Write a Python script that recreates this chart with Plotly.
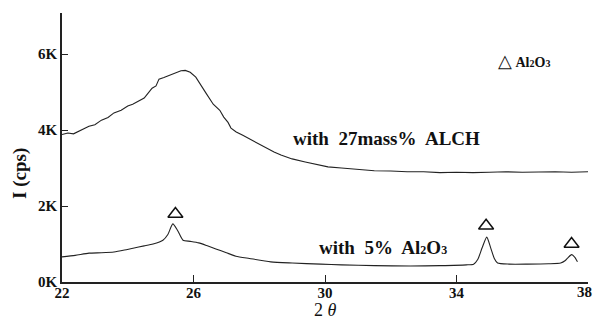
import plotly.graph_objects as go

# 2theta (deg) and intensity (K cps)
alch_x = [22.0, 22.18, 22.35, 22.5, 22.82, 23.0, 23.2, 23.4, 23.58, 23.8, 24.0, 24.15, 24.3,
          24.5, 24.62, 24.74, 24.86, 24.95, 25.1, 25.3, 25.5, 25.62, 25.75, 25.9, 26.07,
          26.2, 26.38, 26.6, 26.8, 26.92, 27.05, 27.14, 27.3, 27.5, 27.75, 28.0, 28.2,
          28.45, 28.66, 29.0, 29.4, 29.78, 30.09, 30.5, 31.0, 31.5, 32.0, 32.5, 33.0,
          33.5, 34.0, 34.5, 35.0, 35.5, 36.0, 36.5, 37.0, 37.5, 38.0]
alch_y = [3.88, 3.92, 3.9, 3.97, 4.1, 4.14, 4.26, 4.33, 4.45, 4.52, 4.63, 4.68, 4.74,
          4.84, 4.97, 5.1, 5.16, 5.34, 5.38, 5.45, 5.52, 5.56, 5.57, 5.52, 5.39,
          5.2, 4.97, 4.68, 4.52, 4.34, 4.2, 4.05, 3.95, 3.86, 3.74, 3.62, 3.52,
          3.42, 3.34, 3.24, 3.16, 3.08, 3.03, 3.0, 2.96, 2.93, 2.92, 2.9, 2.9,
          2.88, 2.89, 2.88, 2.89, 2.9, 2.89, 2.9, 2.9, 2.89, 2.9]

al2o3_x = [22.0, 22.4, 22.82, 23.2, 23.58, 23.9, 24.16, 24.5, 24.77, 25.07, 25.22, 25.37,
           25.52, 25.68, 25.9, 26.16, 26.4, 26.68, 27.0, 27.29, 27.7, 28.35, 29.0, 29.87,
           30.5, 31.5, 32.6, 33.5, 34.3, 34.52, 34.65, 34.78, 34.92, 35.04, 35.15, 35.25,
           35.6, 36.16, 36.8, 37.17, 37.3, 37.38, 37.5, 37.6, 37.68]
al2o3_y = [0.66, 0.7, 0.76, 0.77, 0.79, 0.84, 0.89, 0.95, 1.0, 1.1, 1.25, 1.53,
           1.35, 1.1, 1.07, 1.03, 0.96, 0.87, 0.77, 0.68, 0.62, 0.53, 0.5, 0.47,
           0.45, 0.43, 0.42, 0.43, 0.45, 0.47, 0.6, 0.9, 1.18, 0.9, 0.62, 0.5,
           0.47, 0.47, 0.48, 0.5, 0.56, 0.63, 0.72, 0.65, 0.53]

peak_x = [25.45, 34.9, 37.5]
peak_y = [1.79, 1.48, 1.0]

y_tickvals = [0, 2, 4, 6]
y_ticktext = ["0K", "2K", "4K", "6K"]
x_tickvals = [22, 26, 30, 34, 38]
x_ticktext = ["22", "26", "30", "34", "38"]

serif = "Liberation Serif, Times New Roman, serif"
small = "<span style='font-size:12px'>"
small2 = "<span style='font-size:10px'>"
al2o3 = f"Al{small}2</span>O{small}3</span>"
al2o3_leg = f"Al{small2}2</span>O{small2}3</span>"

fig = go.Figure()
fig.add_trace(go.Scatter(x=alch_x, y=alch_y, mode="lines",
                         line=dict(color="#222", width=1.1)))
fig.add_trace(go.Scatter(x=al2o3_x, y=al2o3_y, mode="lines",
                         line=dict(color="#222", width=1.1), line_shape="spline",
                         line_smoothing=0.6))
fig.add_trace(go.Scatter(x=peak_x, y=peak_y, mode="markers",
                         marker=dict(symbol="triangle-up-open", size=13,
                                     color="#111", line=dict(width=1.5))))

fig.add_annotation(x=31.86, y=3.79, text="<b>with  27mass%  ALCH</b>", showarrow=False,
                   xanchor="center", font=dict(family=serif, size=19, color="#111"))
fig.add_annotation(x=31.76, y=0.92, text=f"<b>with  5%  {al2o3}</b>", showarrow=False,
                   xanchor="center", font=dict(family=serif, size=19, color="#111"))
fig.add_annotation(x=36.05, y=5.82, text=f"<span style='font-size:18px'>△</span> <b>{al2o3_leg}</b>",
                   showarrow=False, xanchor="center",
                   font=dict(family=serif, size=14, color="#111"))

# last x tick label kept inside the page edge
fig.add_annotation(x=x_tickvals[-1], xref="x", yref="paper", y=-0.037,
                   text=f"<b>{x_ticktext[-1]}</b>", showarrow=False,
                   xanchor="right", yanchor="middle", xshift=5, borderpad=0,
                   font=dict(family=serif, size=15, color="#111"))

# axis titles
fig.add_annotation(xref="paper", yref="paper", x=0.5, y=-0.145, text="2 <i>θ</i>",
                   showarrow=False, xanchor="center", yanchor="bottom", borderpad=0,
                   font=dict(family=serif, size=18, color="#111"))
fig.add_annotation(xref="paper", yref="paper", x=-0.08, y=0.405, text="<b>I (cps)</b>",
                   showarrow=False, xanchor="center", yanchor="middle", textangle=-90,
                   font=dict(family=serif, size=19, color="#111"))

fig.update_layout(
    width=593, height=322,
    margin=dict(l=62, r=5, t=13, b=40, autoexpand=False),
    paper_bgcolor="white", plot_bgcolor="white",
    showlegend=False,
    xaxis=dict(range=[22, 38], tickvals=x_tickvals,
               ticktext=x_ticktext[:-1] + [""],
               ticks="inside", ticklen=7,
               showline=True, linecolor="#222", linewidth=1.5, showgrid=False,
               zeroline=False, tickcolor="#222", automargin=False,
               ticklabelstandoff=-4,
               tickfont=dict(family=serif, size=15, color="#111", weight="bold")),
    yaxis=dict(range=[0, 7.08], tickvals=y_tickvals, ticktext=y_ticktext,
               ticks="inside", ticklen=6, showline=True, linecolor="#222",
               linewidth=1.5, showgrid=False, zeroline=False, tickcolor="#222",
               automargin=False,
               tickfont=dict(family=serif, size=15, color="#111", weight="bold")),
)

fig.write_html("out.html")
